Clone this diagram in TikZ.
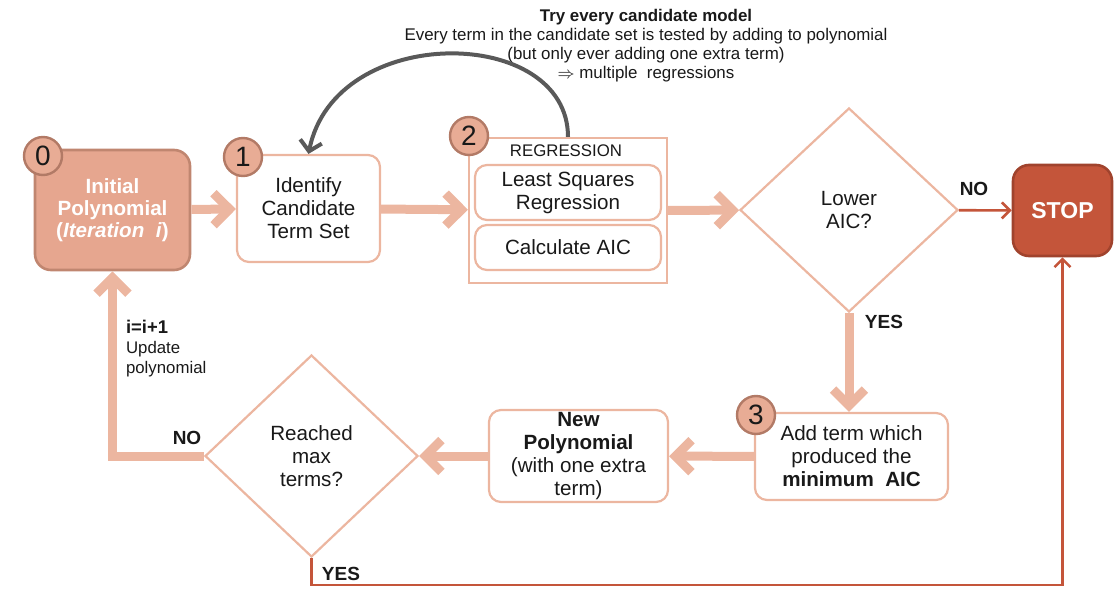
\documentclass[tikz,border=0pt]{standalone}
\usepackage{fontspec}
\setmainfont{Liberation Sans}
\usetikzlibrary{arrows.meta,shapes.geometric}
\definecolor{salmon}{HTML}{E6A68F}
\definecolor{salmonedge}{HTML}{C08670}
\definecolor{peach}{HTML}{ECB6A0}
\definecolor{discfill}{HTML}{E8AC95}
\definecolor{discedge}{HTML}{B27A66}
\definecolor{rust}{HTML}{C4553A}
\definecolor{rustedge}{HTML}{A0432D}
\definecolor{arcgrey}{HTML}{595959}

\begin{document}
\begin{tikzpicture}[x=0.5pt,y=-0.5pt,
  every node/.style={font=\fontsize{10.3}{11.5}\selectfont,text=black!90,align=center},
  box/.style={draw=peach,line width=1.1pt,rounded corners=6pt,fill=white,inner sep=0pt},
  startbox/.style={draw=salmonedge,line width=1.3pt,rounded corners=8pt,fill=salmon,inner sep=0pt,
    text=white,font=\fontsize{10.3}{11}\selectfont\bfseries},
  regbox/.style={draw=peach,line width=1.1pt,fill=white,inner sep=0pt},
  choice/.style={diamond,draw=peach,line width=1.1pt,fill=white,inner sep=0pt},
  stopbox/.style={draw=rustedge,line width=1.3pt,rounded corners=8pt,fill=rust,inner sep=0pt,
    text=white,font=\fontsize{11.5}{13}\selectfont\bfseries},
  numdisc/.style={circle,draw=discedge,line width=1.2pt,fill=discfill,minimum size=19pt,inner sep=0pt,
    font=\fontsize{14}{14}\selectfont},
  lbl/.style={font=\fontsize{9.5}{10}\selectfont\bfseries},
  fat/.style={draw=peach,line width=4.5pt,-{Straight Barb[length=8pt,width=16pt]}},
  slim/.style={draw=rust,line width=1.3pt,-{Straight Barb[length=4pt,width=8pt]}},
  loop arc/.style={draw=arcgrey,line width=2pt,-{Straight Barb[length=5pt,width=11pt]}}]
\useasboundingbox (0,0) rectangle (1120,589);

% boxes
\node (init) [startbox,minimum width=77.5pt,minimum height=60pt] at (112.5,210) {Initial\\Polynomial\\(\textit{Iteration\ \ i})};
\node (ident) [box,minimum width=71.5pt,minimum height=53.5pt] at (308.5,208.5) {Identify\\Candidate\\Term Set};
\node (reg) [regbox,minimum width=99pt,minimum height=72.5pt] at (568,210.5) {};
\node (regtitle) [font=\fontsize{8.4}{10}\selectfont] at (566,151) {REGRESSION};
\node (lsq) [box,minimum width=93pt,minimum height=27.5pt] at (568,192.5) {Least Squares\\Regression};
\node (aic) [box,minimum width=93pt,minimum height=22.5pt] at (568,247.5) {Calculate AIC};
\node (lower) [choice,minimum width=109pt,minimum height=102pt] at (849,210) {Lower\\AIC?};
\node (stop) [stopbox,minimum width=49.5pt,minimum height=45.5pt] at (1062.5,210.5) {STOP};
\node (addterm) [box,minimum width=96.5pt,minimum height=43.5pt] at (851.5,456.5) {Add term which\\produced the\\\textbf{minimum\ \ AIC}};
\node (newpoly) [box,minimum width=89.5pt,minimum height=46pt] at (578.5,456) {\textbf{New}\\\textbf{Polynomial}\\(with one extra\\term)};
\node (maxterms) [choice,minimum width=106.5pt,minimum height=101pt] at (311.5,456) {Reached\\max\\terms?};

% step numbers
\node (c0) [numdisc] at (43,156) {0};
\node (c1) [numdisc] at (243,157) {1};
\node (c2) [numdisc] at (469,136) {2};
\node (c3) [numdisc] at (756,415) {3};

% note over the loop
\node (note) [font=\fontsize{8.45}{9.5}\selectfont] at (646,46) {\textbf{Try every candidate model}\\Every term in the candidate set is tested by adding to polynomial\\(but only ever adding one extra term)\\$\Rightarrow$ multiple\ \ regressions};

\coordinate (yesfoot) at (311.5,585);

% connectors
\draw[fat] (init) -- (ident);
\draw[fat] (ident) -- (reg);
\draw[fat] (reg) -- (lower);
\draw[slim] (lower) -- (stop);
\draw[fat] (lower.south) -- (lower.south |- addterm.north);
\draw[fat] (addterm) -- (newpoly);
\draw[fat] (newpoly) -- (maxterms);
\draw[fat] (maxterms.west) -| (init.south);
\draw[slim] (maxterms.south) -- (maxterms.south |- yesfoot) -| (stop.south);
\draw[loop arc] (reg.north) .. controls (568,25) and (335,22) .. (ident.north);

% labels
\node (nohi) [lbl] at (974,189) {NO};
\node (yeshi) [lbl] at (884,322) {YES};
\node (nolo) [lbl] at (187,438) {NO};
\node (yeslo) [lbl] at (341,574) {YES};
\node (incr) [anchor=west,align=left,font=\fontsize{8.4}{10}\selectfont] at (119,349) {{\fontsize{9.2}{10}\selectfont\bfseries i=i+1}\\Update\\polynomial};
\end{tikzpicture}
\end{document}
